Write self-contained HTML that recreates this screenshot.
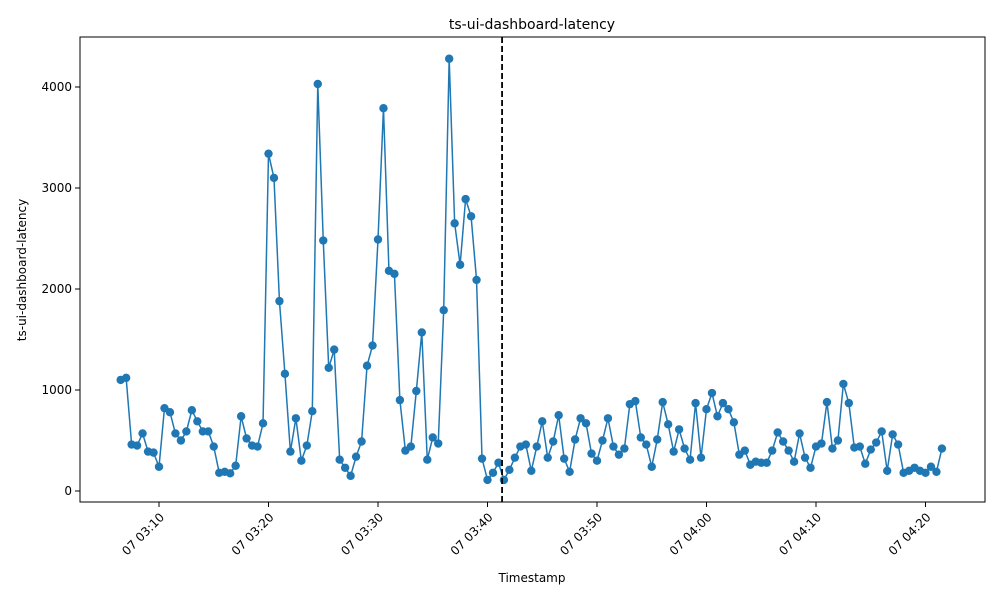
<!DOCTYPE html>
<html><head><meta charset="utf-8"><style>
body{margin:0;background:#fff;font-family:"Liberation Sans","DejaVu Sans",sans-serif;}
svg text{font-family:"DejaVu Sans","Liberation Sans",sans-serif;}
</style></head><body>
<svg id="chart" width="1000" height="600" viewBox="0 0 1000 600" xmlns="http://www.w3.org/2000/svg">
<rect width="1000" height="600" fill="#fff"/>
<text x="532" y="29" text-anchor="middle" font-size="14">ts-ui-dashboard-latency</text>
<text x="532" y="582" text-anchor="middle" font-size="12">Timestamp</text>
<text transform="translate(26,270) rotate(-90)" text-anchor="middle" font-size="12">ts-ui-dashboard-latency</text>
<g id="plot"></g>
<rect x="80" y="37" width="905" height="465" fill="none" stroke="#000" stroke-width="1"/>
</svg>
<script>
const startMinutes = 6.5; // 03:06:30, minutes after 03:00
const stepMinutes = 0.5;
const latency = [1100,1120,460,450,570,390,380,240,820,780,570,500,590,800,690,590,590,440,180,190,175,250,740,520,450,440,670,3340,3100,1880,1160,390,720,300,450,790,4030,2480,1220,1400,310,230,150,340,490,1240,1440,2490,3790,2180,2150,900,400,440,990,1570,310,530,470,1790,4280,2650,2240,2890,2720,2090,320,110,180,280,110,210,330,440,460,200,440,690,330,490,750,320,190,510,720,670,370,300,500,720,440,360,420,860,890,530,460,240,510,880,660,390,610,420,310,870,330,810,970,740,870,810,680,360,400,260,290,280,280,400,580,490,400,290,570,330,230,440,470,880,420,500,1060,870,430,440,270,410,480,590,200,560,460,180,200,230,200,180,240,190,420];
const xTickMinutes = [10,20,30,40,50,60,70,80];
const xTickLabels = ["07 03:10","07 03:20","07 03:30","07 03:40","07 03:50","07 04:00","07 04:10","07 04:20"];
const yTicks = [0,1000,2000,3000,4000];
const splitMinute = 41.33;

const NS="http://www.w3.org/2000/svg";
const g=document.getElementById('plot');
const X=m=>159+(m-10)*10.95;
const Y=v=>491-v*0.101;
function el(t,a){const e=document.createElementNS(NS,t);for(const k in a)e.setAttribute(k,a[k]);g.appendChild(e);return e;}

yTicks.forEach(v=>{
  const y=Y(v);
  const tk=el('line',{x1:75,x2:80,y1:y,y2:y,stroke:'#000'});
  
  
  const t=el('text',{x:72,y:y+4,'text-anchor':'end','font-size':'12'});
  t.textContent=v;
  
  
});
xTickMinutes.forEach((m,i)=>{
  const x=X(m);
  const tk=el('line',{x1:x,x2:x,y1:502,y2:507,stroke:'#000'});
  
  
  const t=el('text',{x:0,y:0,'text-anchor':'end','font-size':'12',transform:`translate(${x+6},${518}) rotate(-45)`});
  t.textContent=xTickLabels[i];
  
  
});
const pts=latency.map((v,i)=>[X(startMinutes+i*stepMinutes),Y(v)]);
const line=el('polyline',{points:pts.map(p=>p.join(',')).join(' '),fill:'none',stroke:'#1f77b4','stroke-width':1.5});


pts.forEach(p=>{
  const c=el('circle',{cx:p[0],cy:p[1],r:4.2,fill:'#1f77b4'});
  
  
});
const sx=X(splitMinute);
const dl=el('line',{x1:sx,x2:sx,y1:37,y2:502,stroke:'#000','stroke-width':1.8,'stroke-dasharray':'6,3'});


</script>
</body></html>
